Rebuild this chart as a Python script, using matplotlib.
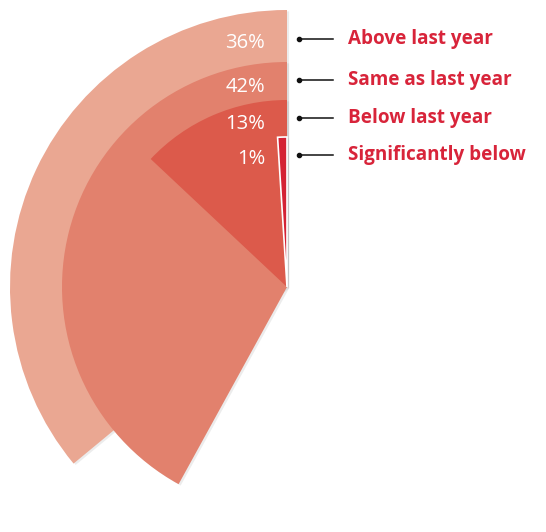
import matplotlib
matplotlib.use("Agg")
import matplotlib.pyplot as plt
from matplotlib.patches import Wedge
from matplotlib import patheffects as pe

# survey answers, outermost ring first
categories = ["Above last year", "Same as last year", "Below last year", "Significantly below"]
values = [36, 42, 13, 1]

colors = ["#EAA792", "#E2816D", "#DC5A4B", "#D42234"]
radii = [277, 225, 187, 150]
label_red = "#D8243A"

W, H = 546, 532
fig = plt.figure(figsize=(W / 100, H / 100), dpi=100)
ax = fig.add_axes([0, 0, 1, 1])
ax.set_xlim(0, W)
ax.set_ylim(0, H)
ax.axis("off")

cx, cy = 287, H - 287
shadow = [pe.SimplePatchShadow(offset=(1.5, -1), shadow_rgbFace="#999999", alpha=0.18), pe.Normal()]

for i, (v, r, c) in enumerate(zip(values, radii, colors)):
    w = Wedge((cx, cy), r, 90, 90 + 360 * v / 100, facecolor=c,
              edgecolor="white" if i == 3 else "none", linewidth=1.2 if i == 3 else 0)
    w.set_path_effects(shadow)
    ax.add_patch(w)

# value labels inside the rings and legend rows on the right
label_y = [43, 87, 124, 159]
legend_y = [39, 80, 118, 155]
for v, ly, gy, name in zip(values, label_y, legend_y, categories):
    ax.text(265, H - ly, f"{v}%", color="white", fontsize=14.5, ha="right", va="center",
            family="Open Sans")
    ax.plot([299, 333], [H - gy, H - gy], color="#111111", linewidth=1.1)
    ax.plot([299], [H - gy], "o", color="#111111", markersize=3)
    ax.text(348, H - gy, name, color=label_red, fontsize=13.6, fontweight="bold",
            ha="left", va="center", family="Open Sans")

fig.savefig("out.png", dpi=100)
